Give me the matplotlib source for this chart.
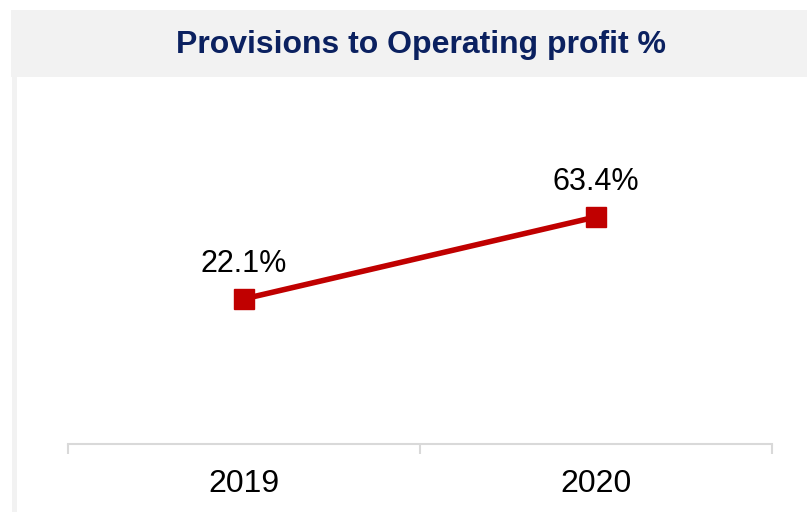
import matplotlib
matplotlib.use("Agg")
import matplotlib.pyplot as plt
from matplotlib.patches import Rectangle

# chart data
years = ["2019", "2020"]
values = [22.1, 63.4]
value_labels = ["22.1%", "63.4%"]
title = "Provisions to Operating profit %"

RED = "#C00000"
NAVY = "#0B2160"
PANEL_GREY = "#F2F2F2"
AXIS_GREY = "#D9D9D9"
SANS = ["Liberation Sans", "DejaVu Sans"]

W, H = 807, 512
fig = plt.figure(figsize=(W / 100, H / 100), dpi=100)
fig.patch.set_facecolor("white")

# title band and thin left border, in pixel coordinates
fig.patches.append(Rectangle((11 / W, 1 - 77 / H), 1 - 11 / W, 67 / H,
                             transform=fig.transFigure, facecolor=PANEL_GREY,
                             edgecolor="none", zorder=0))
fig.patches.append(Rectangle((12 / W, 0), 5 / W, 1 - 77 / H,
                             transform=fig.transFigure, facecolor=PANEL_GREY,
                             edgecolor="none", zorder=0))
fig.text(420.5 / W, 1 - 53.3 / H, title, ha="center", va="baseline",
         fontsize=23, fontweight="bold", color=NAVY, family=SANS)

ax = fig.add_axes([68 / W, 1 - 444 / H, (772 - 68) / W, (444 - 100) / H])
ax.set_facecolor("none")

x = list(range(len(years)))
ax.plot(x, values, color=RED, linewidth=4, marker="s", markersize=14,
        markerfacecolor=RED, markeredgecolor=RED, solid_capstyle="butt")

for xi, v, lab in zip(x, values, value_labels):
    ax.annotate(lab, (xi, v), xytext=(0, 19.6), textcoords="offset points",
                ha="center", va="baseline", fontsize=22, color="black",
                family=SANS)

ax.set_xlim(-0.5, len(years) - 0.5)
ax.set_ylim(-51, 122.3)

# category boundaries as tick marks, labels centred in each category
ax.set_xticks([i - 0.5 for i in range(len(years) + 1)])
ax.set_xticklabels([])
ax.set_xticks(x, minor=True)
ax.set_xticklabels(years, minor=True, fontsize=23, family=SANS)
ax.tick_params(axis="x", which="major", direction="out", length=7,
               width=1.5, color=AXIS_GREY)
ax.tick_params(axis="x", which="minor", length=0, pad=17.8)
ax.set_yticks([])

for side in ["top", "left", "right"]:
    ax.spines[side].set_visible(False)
ax.spines["bottom"].set_color(AXIS_GREY)
ax.spines["bottom"].set_linewidth(1.5)

fig.savefig("out.png", dpi=100, facecolor="white")
